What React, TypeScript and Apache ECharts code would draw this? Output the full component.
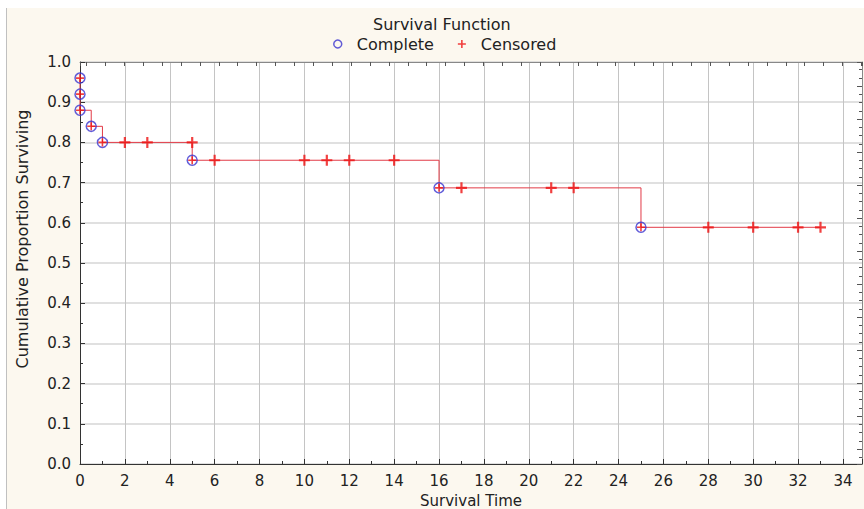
import React, { useEffect, useRef } from "react";
import * as echarts from "echarts";

const completeTimes = [0, 0, 0, 0.5, 1, 5, 16, 25];
const completeValues = [0.96, 0.92, 0.88, 0.84, 0.8, 0.7556, 0.6869, 0.5888];
const censoredTimes = [2, 3, 5, 6, 10, 11, 12, 14, 17, 21, 22, 28, 30, 32, 33];
const censoredValues = [0.8, 0.8, 0.8, 0.7556, 0.7556, 0.7556, 0.7556, 0.7556, 0.6869, 0.6869, 0.6869, 0.5888, 0.5888, 0.5888, 0.5888];

const titleText = "Survival Function";
const xName = "Survival Time";
const yName = "Cumulative Proportion Surviving";
const legendNames = ["Complete", "Censored"];

const FONT = "DejaVu Sans";
const CROSS = "path://M4,0H6V4H10V6H6V10H4V6H0V4H4Z";

export default function App() {
  const ref = useRef<HTMLDivElement>(null);
  useEffect(() => {
    if (!ref.current) return;
    const chart = echarts.init(ref.current, undefined, { renderer: "svg" });
    const stepData = completeTimes.map((t, i) => [t, completeValues[i]]);
    stepData.push([censoredTimes[censoredTimes.length - 1], completeValues[completeValues.length - 1]]);
    const completeData = completeTimes.map((t, i) => [t, completeValues[i]]);
    const censoredData = censoredTimes.map((t, i) => [t, censoredValues[i]]);
    const gridLeft = 80, gridTop = 62, gridW = 782, gridH = 402;
    const xMax = 34.85;

    chart.setOption({
      animation: false,
      backgroundColor: "#ffffff",
      textStyle: { fontFamily: FONT },
      title: {
        text: titleText,
        left: 373,
        top: 16,
        padding: 0,
        textStyle: { fontFamily: FONT, fontSize: 16, fontWeight: "normal", color: "#222" },
      },
      legend: {
        left: 333,
        top: 36,
        padding: 0,
        itemWidth: 28,
        itemHeight: 8,
        itemGap: 24,
        textStyle: { fontFamily: FONT, fontSize: 16, color: "#222" },
        data: [
          { name: legendNames[0], icon: "circle", itemStyle: { color: "transparent", borderColor: "#3b35d0", borderWidth: 1.5 } },
          { name: legendNames[1], icon: CROSS, itemStyle: { color: "#ee1111", borderWidth: 0 } },
        ],
      },
      grid: {
        left: gridLeft,
        top: gridTop,
        width: gridW,
        height: gridH,
        show: true,
        backgroundColor: "#ffffff",
        borderWidth: 0,
        containLabel: false,
        outerBoundsMode: "none",
      },
      graphic: [
        { type: "rect", z: -10, silent: true, shape: { x: 6, y: 8, width: 870, height: 510 }, style: { fill: "#fcf8ef" } },
        { type: "line", z: -9, silent: true, shape: { x1: 6.5, y1: 8, x2: 6.5, y2: 509 }, style: { stroke: "#c0c0c0", lineWidth: 1 } },
        {
          type: "text",
          x: 22,
          y: 239,
          rotation: Math.PI / 2,
          silent: true,
          style: { text: yName, fontFamily: FONT, fontSize: 16, fill: "#222", align: "center", verticalAlign: "middle" },
        },
      ],
      xAxis: [
        {
          type: "value",
          position: "bottom",
          min: 0,
          max: xMax,
          interval: 2,
          name: xName,
          nameLocation: "middle",
          nameGap: 28,
          nameTextStyle: { fontFamily: FONT, fontSize: 15, lineHeight: 16, color: "#222", verticalAlign: "top" },
          axisLine: { show: true, onZero: false, lineStyle: { color: "#333", width: 1 } },
          axisTick: { show: true, inside: true, length: 5, lineStyle: { color: "#333" } },
          axisLabel: {
            margin: 9,
            fontFamily: FONT,
            fontSize: 15,
            color: "#222",
            formatter: (v: number) => (Math.abs(v - Math.round(v)) < 1e-6 && Math.round(v) % 2 === 0 ? String(Math.round(v)) : ""),
          },
          splitLine: { show: true, lineStyle: { color: "#c4c4c4", width: 1 } },
        },
        {
          type: "value",
          position: "top",
          min: -0.344,
          max: 41.03,
          splitNumber: 40,
          axisLine: { show: true, onZero: false, lineStyle: { color: "#888", width: 1 } },
          axisTick: { show: true, inside: true, length: 4, lineStyle: { color: "#555" } },
          axisLabel: { show: false },
          splitLine: { show: false },
        },
        {
          type: "value",
          position: "bottom",
          min: 0,
          max: xMax,
          interval: 1,
          axisLine: { show: false, onZero: false },
          axisTick: { show: true, inside: true, length: 3, lineStyle: { color: "#333" } },
          axisLabel: { show: false },
          splitLine: { show: false },
        },
      ],
      yAxis: [
        {
          type: "value",
          position: "left",
          min: 0,
          max: 1,
          interval: 0.1,
          axisLine: { show: true, onZero: false, lineStyle: { color: "#333", width: 1 } },
          axisTick: { show: true, inside: true, length: 5, lineStyle: { color: "#333" } },
          minorTick: { show: true, splitNumber: 2, length: 3, lineStyle: { color: "#333" } },
          axisLabel: {
            margin: 9,
            fontFamily: FONT,
            fontSize: 15,
            color: "#222",
            formatter: (v: number) => v.toFixed(1),
          },
          splitLine: { show: true, lineStyle: { color: "#d6d6d6", width: 1.5 } },
        },
        {
          type: "value",
          position: "right",
          min: -0.45,
          max: 11.73,
          splitNumber: 12,
          axisLine: { show: true, onZero: false, lineStyle: { color: "#888", width: 1 } },
          axisTick: { show: true, inside: true, length: 5, lineStyle: { color: "#555" } },
          minorTick: { show: true, splitNumber: 4, length: 3, lineStyle: { color: "#555" } },
          axisLabel: { show: false },
          splitLine: { show: false },
        },
      ],
      series: [
        {
          type: "line",
          name: "step",
          data: stepData,
          step: "end",
          showSymbol: false,
          silent: true,
          lineStyle: { color: "#e23a46", width: 1 },
          z: 2,
        },
        {
          type: "scatter",
          name: legendNames[0],
          data: completeData,
          symbol: "circle",
          symbolSize: 10,
          silent: true,
          itemStyle: { color: "transparent", borderColor: "#3b35d0", borderWidth: 1.5 },
          z: 3,
        },
        {
          type: "scatter",
          name: "completeCross",
          data: completeData,
          symbol: CROSS,
          symbolSize: 8,
          silent: true,
          itemStyle: { color: "#ee1111" },
          z: 4,
        },
        {
          type: "scatter",
          name: legendNames[1],
          data: censoredData,
          symbol: CROSS,
          symbolSize: 11,
          silent: true,
          itemStyle: { color: "#ee1111" },
          z: 4,
        },
      ],
    });
    return () => chart.dispose();
  }, []);
  return <div ref={ref} style={{ position: "absolute", left: 0, top: 0, width: 864, height: 509 }} />;
}
